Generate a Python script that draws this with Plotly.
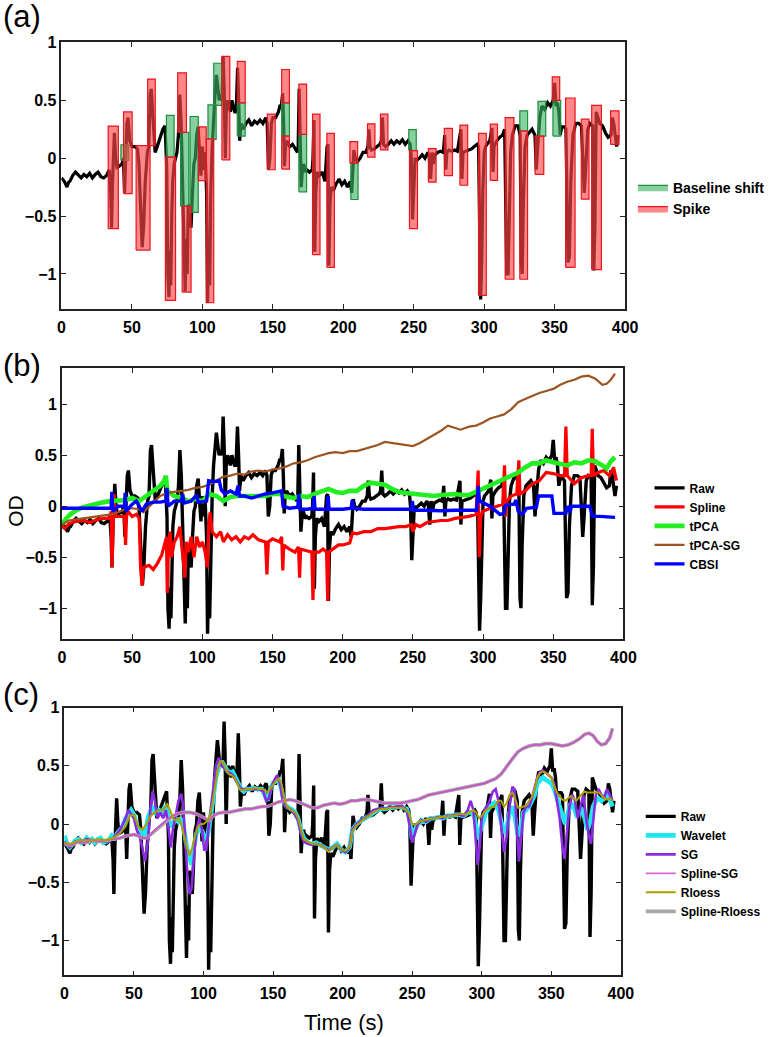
import plotly.graph_objects as go

# ---------------- data ----------------
raw_points = [
    (0,-0.17),(2,-0.2),(4,-0.25),(5,-0.21),(6,-0.2),(8,-0.15),(10,-0.12),(12,-0.15),(14,-0.17),(16,-0.14),
    (18,-0.16),(20,-0.13),(22,-0.17),(24,-0.14),(26,-0.12),(28,-0.16),(30,-0.17),(32,-0.15),(34,-0.1),
    (35,-0.3),(35.6,-0.6),(36.3,-0.2),(37,0.1),(37.6,0.22),(38.5,0.0),(39.5,-0.08),(41,-0.07),(43,-0.05),
    (44,0.0),(44.8,-0.3),(45.6,0.0),(46.5,0.3),(47.3,0.35),(48.5,0.15),(50,0.1),(52,0.1),(53,0.09),
    (54,0.08),(55,-0.05),(56,-0.4),(57.3,-0.77),(58.3,-0.6),(59.5,-0.2),(61,0.05),
    (62,0.1),(63,0.55),(63.8,0.6),(64.5,0.45),(65.5,0.2),(66.5,0.05),(68,0.1),(70,0.17),(72,0.25),(73.5,0.28),
    (74.8,-0.1),(75.5,-1.0),(76.3,-1.2),(77,-0.8),(77.6,-1.1),(78.3,-0.5),(79,-0.2),(80,-0.05),(81,0.0),
    (82,0.05),(83,0.2),(84,0.55),(85,0.3),(86,-0.2),(87,-0.5),(87.8,-1.15),(88.5,-0.7),(89.3,-1.0),(90,-0.4),
    (91,-0.5),(92,-0.6),(93,-0.3),(94,-0.05),
    (95,0.0),(96,0.2),(97,0.27),(98,0.1),(99,-0.15),(100,0.1),(101,-0.1),(102,0.05),(103,-0.3),(103.7,-1.25),
    (104.4,-0.8),(105.2,-1.1),(106,-0.3),(107,0.1),
    (108,0.4),(109,0.55),(110,0.72),(111,0.6),(112,0.5),(113,0.55),
    (114,0.5),(114.8,0.88),(115.5,0.6),(116.3,0.0),(117,0.4),(118,0.5),(119,0.45),(120,0.4),(121,0.5),(122,0.45),(123,0.4),
    (124,0.4),(125,0.78),(125.8,0.5),(126.5,0.15),(127.5,0.3),(129,0.25),(131,0.3),(133,0.33),(135,0.28),(137,0.32),
    (139,0.3),(141,0.33),(143,0.3),(145,0.35),
    (146,0.3),(147,-0.1),(148,0.0),(149,0.3),(150,0.35),(152,0.35),(154,0.4),(155,0.45),
    (156,0.45),(157,0.56),(157.7,0.3),(158.3,-0.07),(159,0.1),(160,0.15),(162,0.1),(164,0.12),(166,0.08),(167.5,0.05),
    (168,0.1),(168.7,0.6),(169.4,0.2),(170.2,-0.25),(171,-0.1),(172,-0.05),(173,-0.12),(174,-0.1),(176,-0.12),(178,-0.1),
    (178.5,0.0),(179.2,0.33),(179.8,-0.81),(180.5,-0.3),(181.5,-0.12),(183,-0.15),(185,-0.12),(187,-0.2),
    (188.5,0.1),(189.2,0.12),(189.8,-0.93),(190.6,-0.4),(191.5,-0.25),(193,-0.28),(195,-0.22),(197,-0.18),
    (199,-0.23),(201,-0.2),(203,-0.25),(205,-0.2),
    (206,-0.3),(206.8,-0.05),(207.5,0.07),(208.5,0.0),(210,-0.03),(212,0.0),(214,0.05),(216,0.05),
    (217.5,0.1),(218.2,0.25),(219,0.1),(220,0.07),(222,0.08),(224,0.1),(226,0.12),
    (227,0.15),(227.8,0.35),(228.6,0.12),(230,0.1),(232,0.12),(234,0.15),(236,0.12),(238,0.15),(240,0.13),
    (242,0.16),(244,0.12),(246,0.15),
    (247.5,0.12),(248.3,0.0),(249.2,-0.53),(250,-0.3),(251,0.0),(252,-0.02),(254,0.0),(256,0.03),(258,0.0),(260,0.05),
    (261,0.02),(262,-0.18),(263,0.05),(264,-0.05),(265,0.03),(267,0.05),(269,0.06),(271,0.05),
    (272,0.2),(272.8,-0.1),(273.5,0.05),(275,0.07),(277,0.06),(279,0.07),(281,0.06),
    (283.5,0.25),(284.2,-0.18),(285,0.05),(287,0.06),(289,0.07),(291,0.08),(293,0.1),(295,0.12),
    (296,0.1),(296.8,-0.6),(297.5,-1.22),(298.3,-0.9),(299,-0.3),(300,0.05),(301,0.1),(302,0.12),(304,0.15),
    (305.5,0.26),(306.3,-0.12),(307,0.1),(309,0.15),(311,0.18),(313,0.2),
    (314.5,0.25),(315.3,-0.5),(316,-1.0),(317,-1.0),(317.8,-0.4),(318.8,0.05),(320,0.2),(322,0.28),(324,0.28),
    (325.5,0.2),(326.3,-0.9),(327,-1.0),(327.8,-0.4),(329,0.1),(330.5,0.2),(332,0.22),(334,0.25),(336,0.2),
    (337,-0.1),(338,0.1),(339.5,0.35),(341,0.45),(343,0.42),(345,0.48),(347,0.45),
    (349,0.5),(350,0.65),(351,0.45),(352,0.48),(353,0.4),
    (354,0.2),(355,0.27),(357,0.27),
    (358,0.25),(358.8,-0.5),(359.5,-0.9),(360.5,-0.85),(361.5,-0.2),(363,0.2),(365,0.3),(367,0.3),
    (369,0.28),(370,0.0),(371,-0.3),(372,-0.1),(373.5,0.25),(375,0.3),(377,0.28),
    (377.8,-0.97),(378.6,-0.6),(379.5,0.4),(380.5,0.35),(382,0.3),(384,0.28),(386,0.22),(388,0.18),
    (390,0.2),(391,0.35),(392,0.3),(393,0.2),(394,0.1),(395,0.2),
]

spline_points = [
    (0,-0.2),(2,-0.22),(5,-0.17),(10,-0.15),(15,-0.14),(20,-0.16),(25,-0.13),(30,-0.12),(34,-0.12),
    (35,-0.05),(35.6,-0.6),(36.4,-0.1),(37.2,0.12),(38,-0.1),(42,-0.1),(44.5,-0.1),(45.3,-0.38),(46,-0.1),
    (47,-0.05),(50,-0.1),(53,-0.08),(55,-0.12),(56,-0.6),(57,-0.78),(58,-0.6),(62,-0.58),(65,-0.62),(68,-0.56),
    (71,-0.48),(73,-0.38),(74.5,-0.3),(75,-0.85),(75.8,-0.4),(77,-0.25),(78,-0.5),(80,-0.35),(82,-0.3),
    (84,-0.2),(86,-0.5),(87.5,-0.7),(88.5,-0.35),(90,-0.45),(92,-0.3),(94,-0.5),(96,-0.3),(98,-0.4),
    (100,-0.35),(102,-0.45),(103.5,-0.6),(104.5,-0.2),(105.5,-0.06),(107,-0.25),(110,-0.3),(113,-0.25),
    (115,-0.35),(118,-0.28),(121,-0.33),(124,-0.3),(127,-0.35),(130,-0.3),(133,-0.32),(136,-0.28),(140,-0.33),
    (145,-0.35),(146,-0.67),(147,-0.35),(150,-0.32),(155,-0.35),(156.5,-0.3),(157.3,-0.63),(158,-0.38),
    (162,-0.42),(166,-0.45),(168.5,-0.4),(169.3,-0.7),(170,-0.42),(175,-0.44),(178,-0.45),(178.8,-0.92),
    (179.6,-0.45),(183,-0.45),(186,-0.42),(188.5,-0.45),(189.3,-0.93),(190,-0.45),(193,-0.42),(197,-0.38),
    (200,-0.38),(205,-0.36),(207,-0.26),(210,-0.27),(215,-0.25),(220,-0.25),(225,-0.22),(230,-0.22),
    (235,-0.21),(240,-0.2),(245,-0.2),(249,-0.18),(250,-0.25),(252,-0.18),(255,-0.2),(260,-0.16),(265,-0.15),
    (270,-0.14),(275,-0.14),(280,-0.12),(285,-0.11),(290,-0.1),(295,-0.08),(296.5,0.35),(297.3,-0.5),
    (298.3,-0.1),(300,-0.05),(305,-0.02),(310,0.0),(314,0.02),(315.3,0.4),(316,-0.1),(317,0.05),(320,0.1),
    (324,0.12),(325.5,0.45),(326.3,0.12),(330,0.15),(335,0.22),(340,0.25),(345,0.33),(350,0.32),(355,0.3),
    (358,0.3),(359,0.78),(360,0.3),(365,0.22),(370,0.28),(375,0.3),(377,0.3),(377.8,0.76),(378.6,0.3),
    (382,0.33),(386,0.35),(390,0.3),(393,0.38),(395,0.25),
]

tpca_points = [
    (0,-0.18),(3,-0.12),(6,-0.08),(10,-0.04),(15,-0.01),(20,0.01),(25,0.03),(30,0.04),(35,0.05),(40,0.05),
    (45,0.06),(50,0.08),(55,0.05),(60,0.1),(65,0.15),(70,0.2),(73,0.25),(74,0.3),(75,0.15),(80,0.1),
    (85,0.08),(90,0.05),(95,0.07),(100,0.05),(105,0.12),(110,0.1),(115,0.05),(120,0.09),(125,0.1),(130,0.1),
    (135,0.11),(140,0.1),(145,0.1),(150,0.12),(155,0.12),(158,0.1),(165,0.08),(170,0.1),(175,0.09),(180,0.12),
    (185,0.14),(190,0.17),(195,0.14),(200,0.13),(205,0.15),(210,0.15),(215,0.2),(220,0.23),(225,0.22),
    (230,0.21),(235,0.17),(240,0.14),(245,0.13),(250,0.12),(255,0.11),(260,0.11),(265,0.1),(270,0.11),
    (275,0.12),(280,0.12),(285,0.11),(290,0.11),(295,0.14),(300,0.17),(305,0.2),(310,0.23),(315,0.26),
    (320,0.3),(325,0.33),(330,0.38),(335,0.42),(340,0.42),(345,0.45),(350,0.43),(355,0.42),(360,0.4),
    (365,0.43),(370,0.42),(375,0.45),(380,0.44),(385,0.4),(388,0.37),(391,0.44),(394,0.48),
]

tpca_sg_points = [
    (0,-0.18),(5,-0.14),(10,-0.13),(15,-0.12),(20,-0.11),(25,-0.1),(30,-0.09),(35,-0.08),(40,-0.06),
    (45,-0.03),(50,-0.02),(55,-0.03),(58,-0.06),(62,0.0),(66,0.05),(70,0.1),(75,0.13),(80,0.14),(85,0.15),
    (90,0.16),(95,0.18),(100,0.19),(105,0.21),(110,0.25),(115,0.29),(120,0.3),(125,0.32),(130,0.31),
    (135,0.34),(140,0.35),(145,0.34),(150,0.36),(155,0.37),(160,0.39),(165,0.42),(170,0.43),(175,0.45),
    (180,0.48),(185,0.5),(190,0.52),(195,0.53),(200,0.52),(205,0.54),(210,0.54),(215,0.56),(220,0.58),
    (225,0.6),(230,0.63),(235,0.62),(240,0.61),(245,0.6),(250,0.59),(255,0.62),(260,0.66),(265,0.7),
    (270,0.74),(275,0.79),(280,0.77),(284,0.75),(290,0.78),(295,0.79),(300,0.82),(305,0.86),(310,0.88),
    (315,0.9),(320,0.95),(325,1.02),(330,1.05),(335,1.08),(340,1.11),(345,1.13),(350,1.15),(355,1.19),
    (360,1.22),(365,1.24),(370,1.27),(375,1.28),(380,1.25),(385,1.19),(388,1.2),(391,1.24),(394,1.3),
]

cbsi_points = [
    (0,-0.02),(10,-0.02),(20,-0.02),(30,-0.015),(35,-0.02),(35.5,0.14),(36.2,-0.05),(40,0.0),(44.5,0.0),
    (45,0.13),(45.6,-0.05),(50,0.02),(53,0.05),(55,0.0),(57,-0.05),(60,0.02),(65,0.04),(70,0.04),(74,0.05),
    (74.8,0.18),(75.6,0.0),(80,0.05),(85,0.05),(86,0.12),(87,0.03),(92,0.05),(96,0.11),(97,0.04),(103,0.05),
    (104.5,0.25),(108,0.24),(112,0.25),(113.5,0.16),(116,0.12),(120,0.15),(124,0.12),(125.5,0.2),(126.5,0.1),
    (130,0.1),(135,0.08),(140,0.1),(145,0.12),(150,0.13),(155,0.15),(156.5,0.15),(157.5,0.0),(162,-0.02),
    (168,-0.01),(168.7,0.12),(169.5,-0.03),(175,-0.03),(179,-0.02),(179.6,0.1),(180.3,-0.03),(189,-0.03),
    (189.6,0.1),(190.3,-0.03),(200,-0.03),(206,-0.02),(206.8,0.06),(207.5,-0.02),(215,-0.03),(219,-0.03),
    (225,-0.03),(235,-0.035),(245,-0.035),(249,-0.03),(249.6,0.05),(250.5,-0.04),(260,-0.04),(270,-0.045),
    (280,-0.04),(290,-0.045),(295.5,-0.04),(296.5,0.2),(297.5,0.05),(305,0.0),(312,-0.08),(315,-0.07),
    (316,0.01),(322,0.02),(323.5,0.06),(325,-0.05),(328,-0.08),(331,-0.02),(338,-0.01),(339.5,0.1),
    (349,0.1),(350.5,-0.07),(359,-0.07),(360,0.0),(362,-0.06),(363,0.0),(376,0.0),(378,-0.1),(383,-0.1),
    (394,-0.11),
]

wavelet_points = [
    (0,-0.1),(2,-0.17),(4,-0.2),(6,-0.17),(8,-0.14),(10,-0.13),(12,-0.16),(14,-0.15),(16,-0.12),(18,-0.15),
    (20,-0.13),(22,-0.16),(24,-0.13),(26,-0.12),(28,-0.16),(30,-0.15),(32,-0.14),(34,-0.1),(36,-0.12),
    (38,-0.08),(40,-0.05),(42,-0.02),(44,0.05),(46,0.08),(48,0.12),(50,0.08),(52,0.0),(54,-0.1),(56,-0.05),
    (58,-0.1),(60,0.05),(62,0.12),(64,0.15),(66,0.08),(68,0.12),(70,0.1),(72,0.14),(74,0.12),(76,-0.02),
    (78,0.0),(80,0.05),(82,0.02),(84,0.05),(86,-0.05),(88,-0.2),(90,-0.3),(91.5,-0.35),(93,-0.2),(95,-0.08),
    (97,-0.03),(99,-0.06),(101,-0.12),(103,-0.1),(105,0.05),(107,0.25),(109,0.4),(111,0.48),(113,0.54),
    (115,0.5),(117,0.46),(119,0.44),(121,0.45),(123,0.4),(125,0.35),(127,0.3),(129,0.28),(131,0.3),(133,0.3),
    (136,0.31),(139,0.3),(142,0.3),(144,0.25),(146,0.2),(148,0.3),(150,0.35),(152,0.37),(154,0.38),(156,0.3),
    (158,0.18),(160,0.15),(162,0.14),(164,0.12),(166,0.1),(168,0.05),(170,-0.05),(172,-0.12),(175,-0.16),
    (178,-0.17),(181,-0.16),(184,-0.18),(187,-0.2),(190,-0.22),(193,-0.2),(196,-0.17),(199,-0.22),(202,-0.24),
    (205,-0.2),(207,-0.05),(210,0.0),(213,0.03),(216,0.05),(219,0.07),(222,0.1),(225,0.12),(228,0.13),
    (231,0.13),(234,0.14),(237,0.14),(240,0.15),(243,0.14),(246,0.13),(248,0.05),(250,-0.13),(252,-0.05),
    (254,0.0),(257,0.03),(260,0.02),(263,0.05),(266,0.05),(269,0.06),(272,0.05),(275,0.07),(278,0.07),
    (281,0.08),(284,0.08),(287,0.07),(290,0.1),(293,0.1),(295,0.05),(297,-0.13),(299,-0.05),(301,0.05),
    (303,0.1),(306,0.15),(309,0.18),(312,0.12),(314,0.0),(316,-0.08),(318,-0.02),(320,0.1),(322,0.15),
    (324,0.05),(326,-0.1),(328,-0.05),(330,0.1),(332,0.12),(334,0.15),(336,0.2),(338,0.25),(340,0.35),
    (342,0.38),(344,0.4),(346,0.38),(348,0.36),(350,0.35),(352,0.3),(354,0.22),(356,0.15),(358,0.05),
    (360,0.0),(362,0.1),(364,0.18),(366,0.15),(368,0.08),(370,0.1),(372,0.12),(374,0.05),(376,-0.05),
    (378,0.02),(380,0.15),(382,0.2),(384,0.22),(386,0.2),(388,0.22),(390,0.28),(392,0.2),(394,0.15),
]

sg_points = [
    (0,-0.15),(4,-0.2),(8,-0.15),(12,-0.16),(16,-0.13),(20,-0.14),(24,-0.14),(28,-0.15),(32,-0.15),
    (35,-0.12),(38,-0.08),(40,-0.05),(42,0.0),(44,0.05),(46,0.12),(48,0.08),(50,0.05),(52,-0.05),(54,-0.1),
    (56,-0.2),(58,-0.32),(60,-0.15),(62,0.15),(63.5,0.28),(65,0.2),(67,0.05),(69,0.1),(71,0.05),(73,0.12),
    (75,-0.05),(76.5,-0.2),(78,-0.05),(80,0.08),(82,0.2),(84,0.26),(85.5,0.15),(87,-0.15),(88.5,-0.45),
    (90,-0.6),(91.5,-0.55),(93,-0.3),(95,-0.05),(97,0.05),(99,-0.05),(100.5,-0.22),(102,-0.22),(103.5,-0.05),
    (105,0.1),(107,0.3),(109,0.5),(111,0.57),(113,0.5),(115,0.48),(117,0.45),(119,0.44),(121,0.42),
    (123,0.38),(125,0.34),(127,0.3),(129,0.3),(131,0.3),(134,0.3),(137,0.3),(140,0.3),(143,0.28),(145,0.2),
    (147,0.22),(149,0.32),(151,0.38),(153,0.42),(155,0.35),(157,0.2),(159,0.15),(162,0.13),(165,0.1),
    (168,0.03),(170,-0.08),(172,-0.15),(175,-0.17),(178,-0.18),(181,-0.17),(184,-0.18),(187,-0.2),(190,-0.23),
    (193,-0.2),(196,-0.18),(199,-0.22),(202,-0.24),(205,-0.2),(207,-0.05),(210,0.0),(213,0.03),(216,0.05),
    (219,0.08),(222,0.12),(225,0.13),(228,0.14),(231,0.13),(234,0.15),(237,0.14),(240,0.16),(243,0.15),
    (246,0.12),(248,0.0),(250,-0.16),(252,-0.08),(254,0.0),(257,0.03),(260,0.02),(263,0.05),(266,0.05),
    (269,0.06),(272,0.05),(275,0.07),(278,0.07),(281,0.08),(284,0.08),(287,0.07),(290,0.12),(292,0.2),
    (294,0.12),(295.5,-0.1),(297,-0.35),(298.5,-0.2),(300,0.05),(302,0.12),(305,0.18),(308,0.28),(310,0.3),
    (312,0.2),(314,-0.05),(316,-0.24),(318,-0.1),(320,0.15),(322,0.32),(323.5,0.3),(325,0.0),(326.7,-0.32),
    (328.5,-0.1),(330,0.1),(332,0.15),(334,0.15),(336,0.22),(338,0.3),(340,0.4),(342,0.45),(344,0.46),
    (346,0.44),(348,0.42),(350,0.4),(352,0.35),(354,0.2),(356,0.05),(358,-0.2),(359.5,-0.3),(361,-0.1),
    (363,0.15),(365,0.25),(367,0.2),(369,0.05),(371,0.15),(373,0.25),(375,0.05),(377,-0.1),(378.5,-0.17),
    (380,0.0),(382,0.25),(384,0.3),(386,0.25),(388,0.22),(390,0.3),(392,0.25),(394,0.2),
]

rloess_points = [
    (0,-0.16),(5,-0.17),(10,-0.14),(15,-0.14),(20,-0.14),(25,-0.13),(30,-0.14),(35,-0.12),(40,-0.08),
    (44,-0.02),(47,0.07),(50,0.08),(53,-0.02),(56,-0.05),(59,0.0),(62,0.07),(65,0.1),(68,0.12),(71,0.12),
    (74,0.17),(76,0.12),(78,0.05),(80,0.03),(82,0.05),(84,0.0),(86,-0.1),(88,-0.2),(90,-0.27),(92,-0.2),
    (94,-0.1),(96,-0.02),(98,0.0),(100,0.0),(102,0.02),(104,0.05),(106,0.15),(108,0.3),(110,0.45),(112,0.54),
    (114,0.53),(116,0.47),(118,0.43),(120,0.42),(122,0.4),(124,0.36),(126,0.3),(128,0.29),(131,0.3),
    (134,0.3),(137,0.31),(140,0.3),(143,0.3),(146,0.27),(149,0.32),(152,0.37),(154,0.39),(156,0.35),
    (158,0.22),(160,0.15),(163,0.12),(166,0.1),(168,0.05),(170,-0.05),(172,-0.13),(175,-0.15),(178,-0.17),
    (181,-0.17),(184,-0.18),(187,-0.2),(190,-0.24),(193,-0.2),(196,-0.18),(199,-0.22),(202,-0.23),(205,-0.2),
    (207,-0.06),(210,-0.01),(213,0.02),(216,0.05),(219,0.07),(222,0.1),(225,0.12),(228,0.13),(231,0.13),
    (234,0.14),(237,0.14),(240,0.14),(243,0.14),(246,0.12),(248,0.08),(250,0.0),(252,-0.01),(255,0.02),
    (258,0.03),(261,0.04),(264,0.05),(267,0.05),(270,0.06),(273,0.06),(276,0.07),(279,0.07),(282,0.08),
    (285,0.09),(288,0.08),(291,0.1),(294,0.12),(296,0.1),(298,0.05),(300,0.07),(303,0.12),(306,0.14),
    (309,0.15),(312,0.2),(314,0.2),(316,0.15),(318,0.18),(320,0.25),(322,0.27),(324,0.22),(326,0.14),
    (328,0.14),(330,0.15),(332,0.16),(334,0.2),(336,0.23),(338,0.3),(340,0.4),(342,0.44),(344,0.45),
    (346,0.44),(348,0.42),(350,0.4),(352,0.33),(354,0.27),(356,0.24),(358,0.21),(360,0.2),(362,0.22),
    (364,0.24),(366,0.22),(368,0.2),(370,0.23),(372,0.26),(374,0.28),(376,0.27),(378,0.27),(380,0.27),
    (382,0.27),(384,0.27),(386,0.25),(388,0.22),(390,0.21),(392,0.22),(394,0.2),
]

spline_sg_points = [
    (0,-0.17),(5,-0.18),(10,-0.15),(15,-0.16),(20,-0.14),(25,-0.15),(30,-0.14),(35,-0.13),(40,-0.12),
    (45,-0.1),(50,-0.09),(53,-0.1),(56,-0.12),(59,-0.12),(62,-0.09),(66,-0.04),(70,0.0),(74,0.04),(78,0.07),
    (82,0.09),(86,0.1),(90,0.1),(94,0.09),(98,0.07),(102,0.04),(104,0.03),(107,0.07),(110,0.09),(114,0.1),
    (118,0.1),(122,0.11),(126,0.12),(130,0.13),(134,0.13),(138,0.14),(142,0.15),(146,0.15),(150,0.17),
    (154,0.19),(158,0.2),(162,0.21),(166,0.2),(170,0.18),(174,0.16),(178,0.14),(182,0.14),(186,0.16),
    (190,0.17),(194,0.18),(198,0.17),(202,0.18),(206,0.2),(210,0.2),(214,0.21),(218,0.21),(222,0.2),
    (226,0.19),(230,0.18),(234,0.18),(238,0.18),(242,0.18),(246,0.19),(250,0.2),(254,0.21),(258,0.23),
    (262,0.25),(266,0.26),(270,0.27),(274,0.28),(278,0.29),(282,0.3),(286,0.31),(290,0.32),(294,0.33),
    (298,0.34),(302,0.35),(306,0.37),(310,0.39),(314,0.43),(318,0.5),(322,0.56),(326,0.62),(330,0.65),
    (334,0.67),(338,0.68),(342,0.68),(346,0.69),(350,0.69),(354,0.68),(358,0.67),(362,0.68),(366,0.7),
    (370,0.73),(374,0.77),(377,0.78),(380,0.76),(383,0.71),(386,0.68),(389,0.69),(392,0.74),(394,0.82),
]

spline_rloess_points = [
    (0,-0.17),(5,-0.18),(10,-0.15),(15,-0.16),(20,-0.14),(25,-0.15),(30,-0.14),(35,-0.13),(40,-0.12),
    (45,-0.1),(50,-0.09),(53,-0.1),(56,-0.12),(59,-0.12),(62,-0.09),(66,-0.04),(70,0.0),(74,0.04),(78,0.07),
    (82,0.09),(86,0.1),(90,0.1),(94,0.09),(98,0.07),(102,0.04),(104,0.03),(107,0.07),(110,0.09),(114,0.1),
    (118,0.1),(122,0.11),(126,0.12),(130,0.13),(134,0.13),(138,0.14),(142,0.15),(146,0.15),(150,0.17),
    (154,0.19),(158,0.2),(162,0.21),(166,0.2),(170,0.18),(174,0.16),(178,0.14),(182,0.14),(186,0.16),
    (190,0.17),(194,0.18),(198,0.17),(202,0.18),(206,0.2),(210,0.2),(214,0.21),(218,0.21),(222,0.2),
    (226,0.19),(230,0.18),(234,0.18),(238,0.18),(242,0.18),(246,0.19),(250,0.2),(254,0.21),(258,0.23),
    (262,0.25),(266,0.26),(270,0.27),(274,0.28),(278,0.29),(282,0.3),(286,0.31),(290,0.32),(294,0.33),
    (298,0.34),(302,0.35),(306,0.37),(310,0.39),(314,0.43),(318,0.5),(322,0.56),(326,0.62),(330,0.65),
    (334,0.67),(338,0.68),(342,0.68),(346,0.69),(350,0.69),(354,0.68),(358,0.67),(362,0.68),(366,0.7),
    (370,0.73),(374,0.77),(377,0.78),(380,0.76),(383,0.71),(386,0.68),(389,0.69),(392,0.74),(394,0.82),
]

# motion-artifact boxes: (t_start, t_end, od_low, od_high)
baseline_boxes = [
    (42.2,47.8,-0.02,0.115),(74.5,80.0,0.009,0.369),(84.6,90.4,-0.417,0.223),(91.3,97.1,-0.469,0.36),
    (104.0,109.8,0.163,0.46),(108.1,113.9,0.457,0.82),(124.8,130.4,0.191,0.477),(156.3,161.8,0.191,0.477),
    (168.5,174.0,-0.291,0.206),(205.4,210.5,-0.357,-0.043),(246.5,251.8,0.066,0.246),(325.3,330.8,0.234,0.409),
    (338.2,343.7,0.191,0.491),(348.8,354.3,0.191,0.5),
]
spike_boxes = [
    (33.2,40.4,-0.609,0.277),(44.1,50.2,-0.306,0.4),(53.0,62.9,-0.794,0.109),(61.2,66.6,0.109,0.683),
    (73.8,81.0,-1.229,0.009),(82.5,88.7,0.223,0.737),(85.7,92.0,-1.157,-0.417),(97.2,102.8,-0.194,0.271),
    (102.8,108.1,-1.249,0.166),(113.9,119.5,-0.014,0.88),(124.8,130.4,0.477,0.837),(146.1,151.7,-0.1,0.38),
    (156.3,161.8,0.477,0.766),(156.3,161.8,-0.094,0.191),(168.5,174.0,0.206,0.64),(178.2,183.5,-0.834,0.38),
    (188.4,193.7,-0.943,0.214),(204.7,210.2,-0.043,0.143),(217.2,222.5,0.009,0.297),(226.4,231.7,0.071,0.38),
    (247.0,252.7,-0.609,0.066),(260.4,265.9,-0.206,0.083),(271.7,277.5,-0.151,0.257),(282.8,288.3,-0.234,0.286),
    (296.0,301.5,-1.186,0.214),(304.3,309.5,-0.191,0.294),(314.9,321.1,-1.046,0.351),(325.3,330.8,-1.046,0.234),
    (336.1,342.3,-0.14,0.191),(348.3,353.6,0.5,0.703),(357.8,364.5,-0.943,0.52),(368.9,374.4,-0.354,0.337),
    (376.3,383.2,-0.963,0.457),(389.7,395.7,0.12,0.409),
]

x_tick_values = [0, 50, 100, 150, 200, 250, 300, 350, 400]
y_tick_values = [-1, -0.5, 0, 0.5, 1]
y_tick_labels = ["\u22121", "\u22120.5", "0", "0.5", "1"]
panel_labels = ["(a)", "(b)", "(c)"]


# ---------------- helpers ----------------
def split(points):
    return [p[0] for p in points], [p[1] for p in points]


def box_outline(boxes):
    xs, ys = [], []
    for x0, x1, y0, y1 in boxes:
        xs += [x0, x1, x1, x0, x0, None]
        ys += [y0, y0, y1, y1, y0, None]
    return xs, ys


FONT = "Liberation Sans, Arial, Helvetica, sans-serif"
fig = go.Figure()


def line(points, name, color, width, xa, ya, legend, rank=None, show=True, opacity=1.0):
    xs, ys = split(points)
    kw = {}
    if rank is not None:
        kw["legendrank"] = rank
    fig.add_trace(go.Scatter(x=xs, y=ys, mode="lines", name=name,
                             line=dict(color=color, width=width),
                             xaxis=xa, yaxis=ya, legend=legend, showlegend=show,
                             opacity=opacity, **kw))


# panel (a)
line(raw_points, "Raw", "black", 3.2, "x", "y", "legend", show=False)
bx, by = box_outline(baseline_boxes)
fig.add_trace(go.Scatter(x=bx, y=by, mode="lines", fill="toself", name="Baseline shift",
                         fillcolor="rgba(60,180,100,0.62)", line=dict(color="#1f8f3c", width=1.2),
                         xaxis="x", yaxis="y", legend="legend"))
sx, sy = box_outline(spike_boxes)
fig.add_trace(go.Scatter(x=sx, y=sy, mode="lines", fill="toself", name="Spike",
                         fillcolor="rgba(255,70,70,0.65)", line=dict(color="#e8141e", width=1.2),
                         xaxis="x", yaxis="y", legend="legend"))

# panel (b)
line(raw_points, "Raw", "black", 3.4, "x2", "y2", "legend2")
line(spline_points, "Spline", "#ff0000", 3.2, "x2", "y2", "legend2")
line(tpca_points, "tPCA", "#22ee22", 4.6, "x2", "y2", "legend2")
line(tpca_sg_points, "tPCA-SG", "#9b5523", 2.2, "x2", "y2", "legend2")
line(cbsi_points, "CBSI", "#0000ff", 3.4, "x2", "y2", "legend2")

# panel (c)
line(raw_points, "Raw", "black", 3.4, "x3", "y3", "legend3", rank=1)
line(wavelet_points, "Wavelet", "#22e6f0", 4.6, "x3", "y3", "legend3", rank=2)
line(sg_points, "SG", "#8a2be2", 2.6, "x3", "y3", "legend3", rank=3)
line(spline_rloess_points, "Spline-Rloess", "#a8a8a8", 3.6, "x3", "y3", "legend3", rank=6)
line(spline_sg_points, "Spline-SG", "#d040d0", 1.8, "x3", "y3", "legend3", rank=4, opacity=0.8)
line(rloess_points, "Rloess", "#aca000", 2.0, "x3", "y3", "legend3", rank=5)

# ---------------- layout ----------------
W, H = 776, 1037


def px_x(p):
    return p / W


def px_y(p):
    return 1 - p / H


axis_common = dict(showline=True, linecolor="#222222", linewidth=1.6, mirror="ticks",
                   ticks="inside", ticklen=5, tickwidth=1.3, tickcolor="#222222",
                   showgrid=False, zeroline=False,
                   tickfont=dict(family=FONT, size=16, color="black", weight="bold"))

panels = [  # (left px, right px, top px, bottom px, y range)
    (58.7, 635.0, 34.7, 303.0, [-1.3, 1.0]),
    (59.3, 633.3, 363.3, 635.7, [-1.3, 1.35]),
    (61.7, 630.7, 705.0, 975.0, [-1.3, 1.0]),
]
layout_axes = {}
for i, (l, r, t, b, yr) in enumerate(panels):
    sfx = "" if i == 0 else str(i + 1)
    layout_axes["xaxis" + sfx] = dict(axis_common, domain=[px_x(l), px_x(r)], range=[0, 400],
                                      anchor="y" + sfx, tickvals=x_tick_values,
                                      ticktext=[str(v) for v in x_tick_values], ticklabelstandoff=3)
    layout_axes["yaxis" + sfx] = dict(axis_common, domain=[px_y(b), px_y(t)], range=yr,
                                      anchor="x" + sfx, tickvals=y_tick_values, ticktext=y_tick_labels)

legend_common = dict(bgcolor="rgba(0,0,0,0)", borderwidth=0, xanchor="left", yanchor="top",
                     tracegroupgap=0, itemclick=False)
fig.update_layout(
    width=W, height=H, margin=dict(l=0, r=0, t=0, b=0),
    paper_bgcolor="white", plot_bgcolor="white",
    font=dict(family=FONT, color="black"),
    legend=dict(legend_common, x=px_x(643), y=px_y(165),
                font=dict(family=FONT, size=14, color="black", weight="bold")),
    legend2=dict(legend_common, x=px_x(660), y=px_y(469),
                 font=dict(family=FONT, size=12, color="black", weight="bold")),
    legend3=dict(legend_common, x=px_x(651), y=px_y(800),
                 font=dict(family=FONT, size=12, color="black", weight="bold")),
    **layout_axes,
)

label_y = [9, 360, 692]
for txt, yy in zip(panel_labels, label_y):
    fig.add_annotation(text=txt, x=px_x(-3), y=px_y(yy), xref="paper", yref="paper",
                       xanchor="left", yanchor="middle", showarrow=False,
                       font=dict(family=FONT, size=31, color="black"))
fig.add_annotation(text="OD", x=px_x(11), y=px_y(507), xref="paper", yref="paper",
                   textangle=-90, xanchor="center", yanchor="middle", showarrow=False,
                   font=dict(family=FONT, size=21, color="black"))
fig.add_annotation(text="Time (s)", x=px_x(348), y=px_y(1022), xref="paper", yref="paper",
                   xanchor="center", yanchor="middle", showarrow=False,
                   font=dict(family=FONT, size=22, color="black"))

fig.write_html("out.html", config={"displayModeBar": False},
               post_script="document.body.style.margin='0px';")
